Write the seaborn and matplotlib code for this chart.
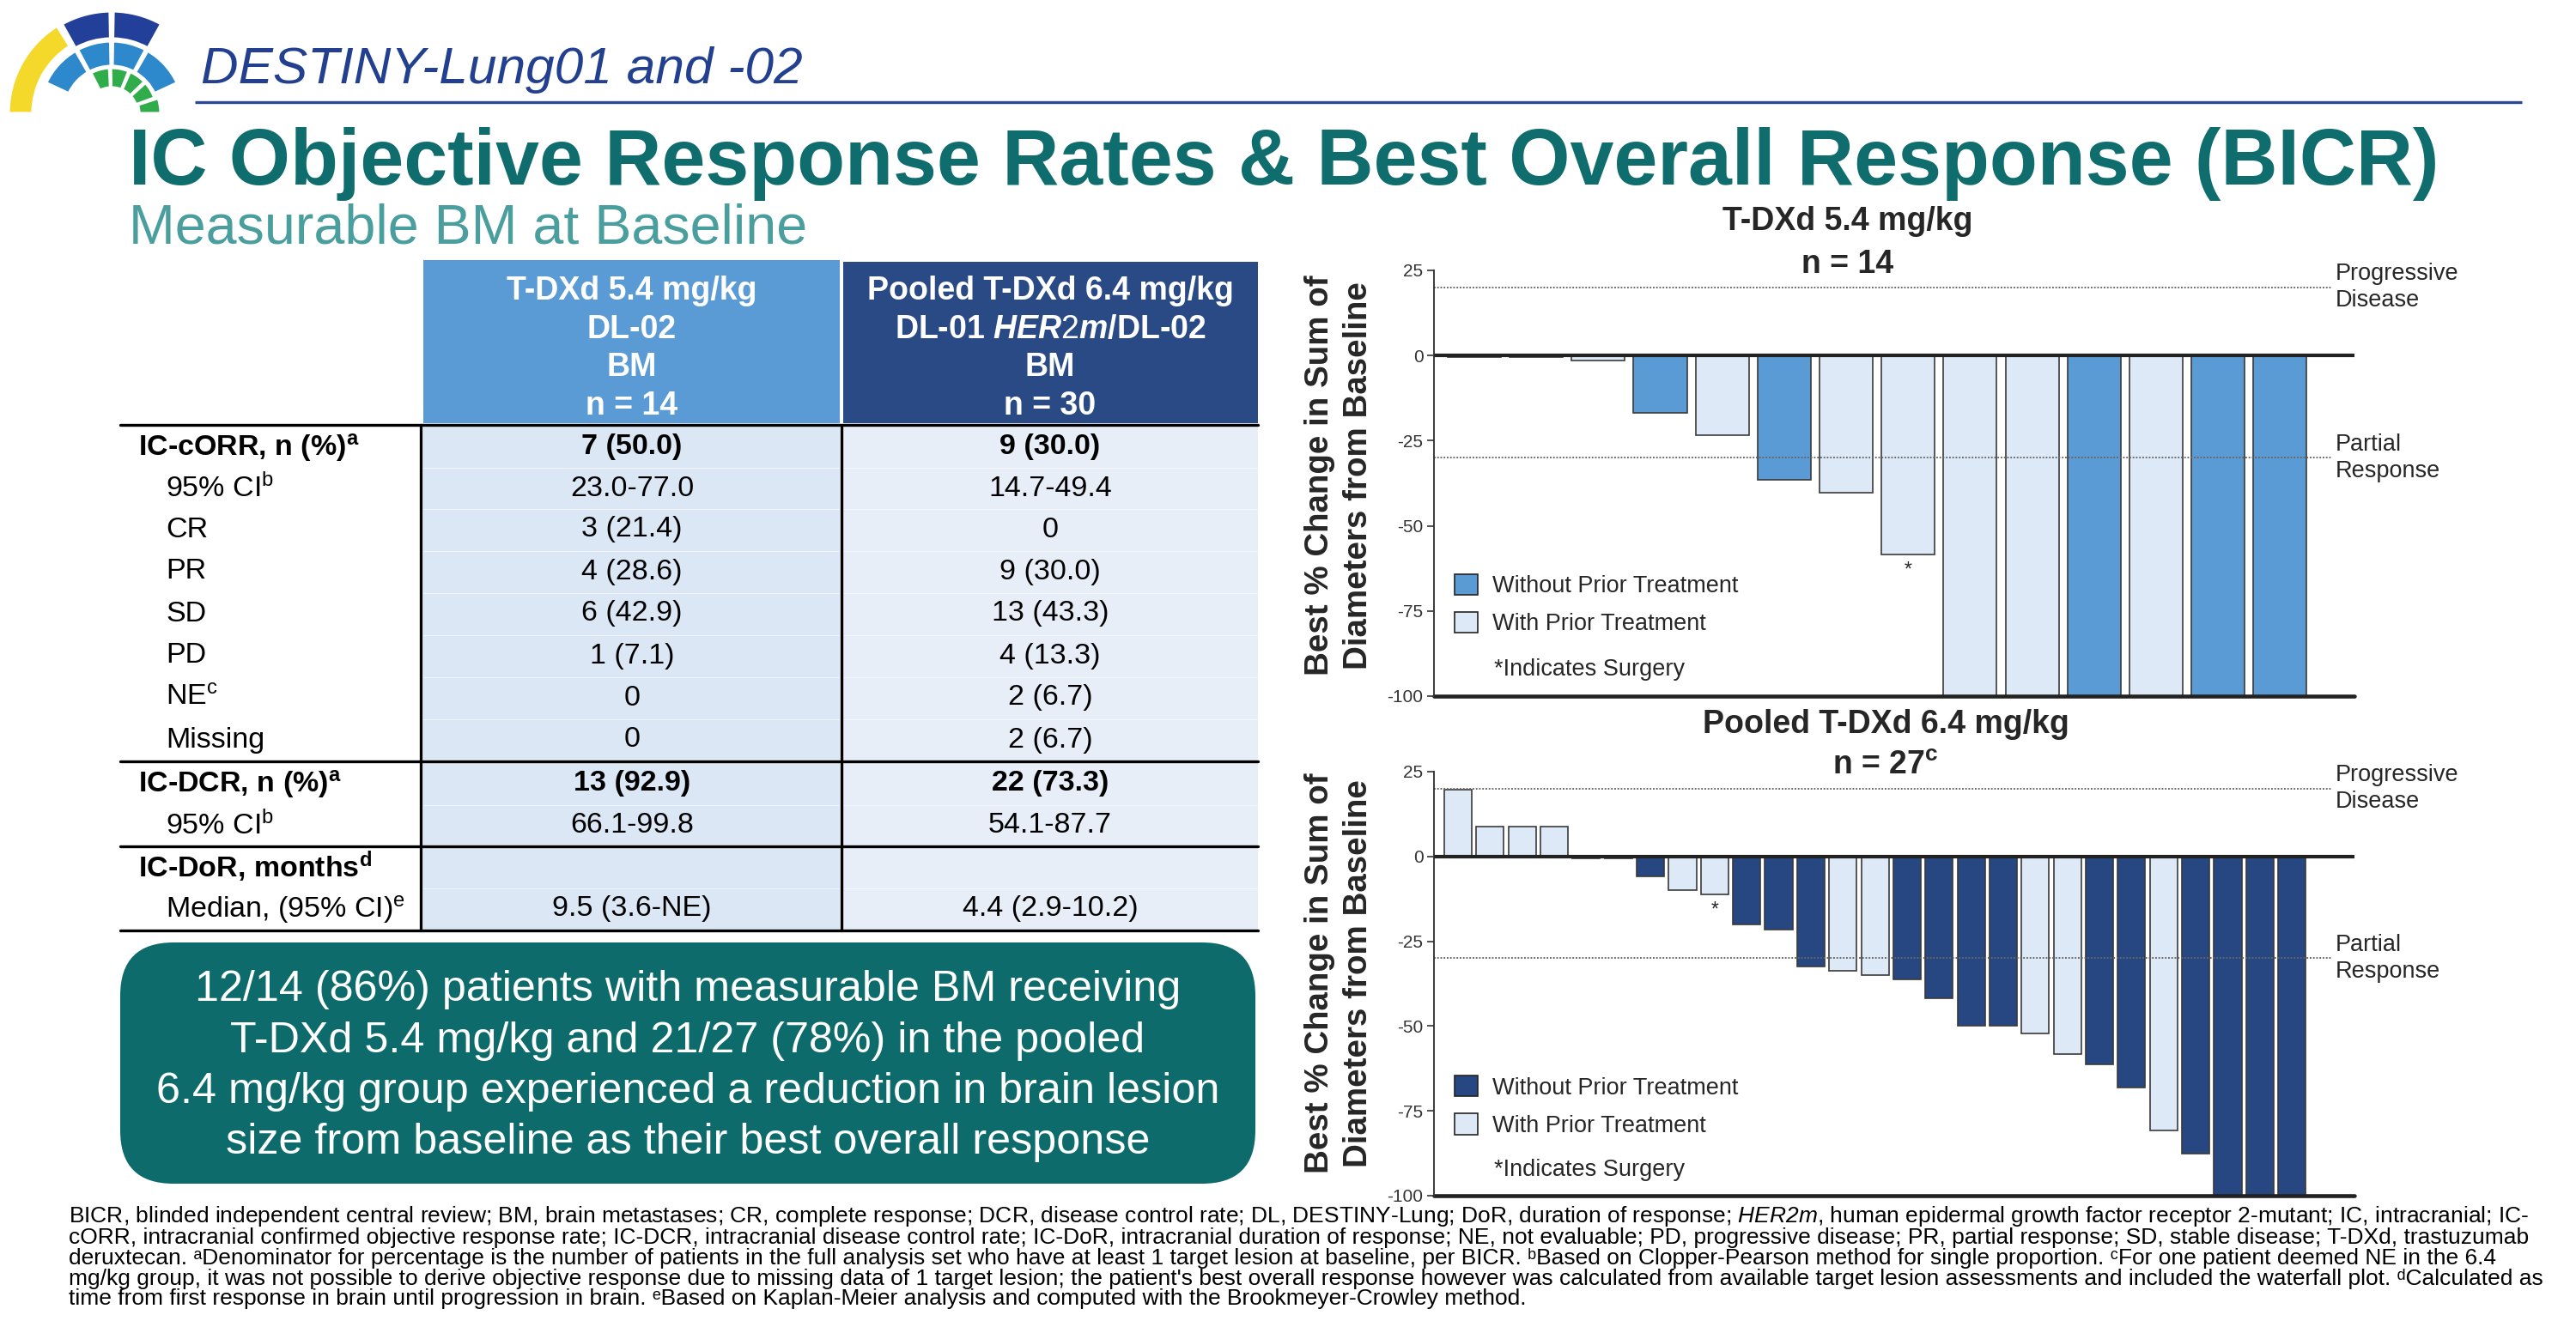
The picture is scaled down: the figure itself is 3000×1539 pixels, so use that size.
import numpy as np
import pandas as pd
import matplotlib
matplotlib.use('Agg')
import matplotlib.pyplot as plt
import matplotlib.transforms as mtransforms
from matplotlib.font_manager import FontProperties
from matplotlib.patches import Rectangle, FancyBboxPatch, Wedge, Patch
import seaborn as sns

sns.set_theme(style='white')
plt.rcParams['font.family'] = ['Liberation Sans', 'DejaVu Sans']
plt.rcParams['mathtext.fontset'] = 'custom'
plt.rcParams['mathtext.rm'] = 'Liberation Sans'
plt.rcParams['mathtext.bf'] = 'Liberation Sans:bold'
plt.rcParams['mathtext.it'] = 'Liberation Sans:bold:italic'
plt.rcParams['mathtext.sf'] = 'Liberation Sans:italic'
plt.rcParams['axes.unicode_minus'] = False

# ---- waterfall data (best % change from baseline) ----
low_change = [-0.4, -0.4, -1.5, -16.8, -23.5, -36.4, -40.2, -58.5,
              -100, -100, -100, -100, -100, -100]
low_prior = ['Without', 'Without', 'With', 'Without', 'With', 'Without', 'With', 'With',
             'With', 'With', 'Without', 'With', 'Without', 'Without']
low_surgery = [7]

pool_change = [19.6, 8.9, 8.9, 8.9, -0.5, -0.5, -5.8, -9.8, -11.2, -20.0, -21.6,
               -32.5, -33.6, -35.0, -36.3, -41.7, -49.9, -49.9, -52.1, -58.3,
               -61.2, -68.1, -80.8, -87.6, -100, -100, -100]
pool_prior = ['With', 'With', 'With', 'With', 'Without', 'Without', 'Without', 'With', 'With',
              'Without', 'Without', 'Without', 'With', 'With', 'Without', 'Without',
              'Without', 'Without', 'With', 'With', 'Without', 'Without', 'With',
              'Without', 'Without', 'Without', 'Without']
pool_surgery = [8]

yticks = [25, 0, -25, -50, -75, -100]

# ---- table data ----
row_labels = [r'IC-cORR, n (%)$^{\mathbf{a}}$', r'95% CI$^{\mathrm{b}}$', 'CR', 'PR', 'SD', 'PD',
              r'NE$^{\mathrm{c}}$', 'Missing', r'IC-DCR, n (%)$^{\mathbf{a}}$', r'95% CI$^{\mathrm{b}}$',
              r'IC-DoR, months$^{\mathbf{d}}$', r'Median, (95% CI)$^{\mathrm{e}}$']
bold_rows = [0, 8, 10]
col_54 = ['7 (50.0)', '23.0-77.0', '3 (21.4)', '4 (28.6)', '6 (42.9)', '1 (7.1)', '0', '0',
          '13 (92.9)', '66.1-99.8', '', '9.5 (3.6-NE)']
col_64 = ['9 (30.0)', '14.7-49.4', '0', '9 (30.0)', '13 (43.3)', '4 (13.3)', '2 (6.7)', '2 (6.7)',
          '22 (73.3)', '54.1-87.7', '', '4.4 (2.9-10.2)']
head_54 = ['T-DXd 5.4 mg/kg', 'DL-02', 'BM', 'n = 14']
head_64 = ['Pooled T-DXd 6.4 mg/kg', r'DL-01 $\mathit{HER2m}$/DL-02', 'BM', 'n = 30']

box_lines = ['12/14 (86%) patients with measurable BM receiving',
             'T-DXd 5.4 mg/kg and 21/27 (78%) in the pooled',
             '6.4 mg/kg group experienced a reduction in brain lesion',
             'size from baseline as their best overall response']

foot_lines = [
    r'BICR, blinded independent central review; BM, brain metastases; CR, complete response; DCR, disease control rate; DL, DESTINY-Lung; DoR, duration of response; $\mathsf{HER2m}$, human epidermal growth factor receptor 2-mutant; IC, intracranial; IC-',
    'cORR, intracranial confirmed objective response rate; IC-DCR, intracranial disease control rate; IC-DoR, intracranial duration of response; NE, not evaluable; PD, progressive disease; PR, partial response; SD, stable disease; T-DXd, trastuzumab',
    'deruxtecan. \u1d43Denominator for percentage is the number of patients in the full analysis set who have at least 1 target lesion at baseline, per BICR. \u1d47Based on Clopper-Pearson method for single proportion. \u1d9cFor one patient deemed NE in the 6.4',
    "mg/kg group, it was not possible to derive objective response due to missing data of 1 target lesion; the patient's best overall response however was calculated from available target lesion assessments and included the waterfall plot. \u1d48Calculated as",
    'time from first response in brain until progression in brain. \u1d49Based on Kaplan-Meier analysis and computed with the Brookmeyer-Crowley method.',
]

W, H = 3000, 1539
teal = '#0f6d6e'
light = '#dde9f6'
mid_blue = '#5b9bd5'
navy = '#264781'

fig = plt.figure(figsize=(W / 150, H / 150), dpi=150)
fig.patch.set_facecolor('white')
bg = fig.add_axes([0, 0, 1, 1])
bg.set_xlim(0, W)
bg.set_ylim(H, 0)
bg.axis('off')
renderer = fig.canvas.get_renderer()


def fit_size(text, width_px, **kw):
    t = bg.text(0, 0, text, fontsize=20, **kw)
    w = t.get_window_extent(renderer=renderer).width
    t.remove()
    return 20 * width_px / w


# ---- logo ----
cx, cy = 130, 132
segs = [(120, 28, 122, 180, '#f4d92a'),
        (119, 32, 61, 89, '#22409a'), (119, 32, 91, 119, '#22409a'),
        (84, 29, 25, 60, '#2e88cc'), (84, 29, 62, 89, '#2e88cc'),
        (84, 29, 91, 118, '#2e88cc'), (84, 29, 120, 155, '#2e88cc'),
        (53, 23, 93, 117, '#30ad4a'), (53, 23, 68, 91, '#30ad4a'),
        (53, 23, 44, 66, '#30ad4a'), (53, 23, 20, 42, '#30ad4a'), (57, 25, 0, 18, '#30ad4a')]
for r, wd, a1, a2, c in segs:
    bg.add_patch(Wedge((cx, cy), r, -a2, -a1, width=wd, facecolor=c, edgecolor='white', lw=1.5))

bg.text(234, 97, 'DESTINY-Lung01 and -02', fontsize=29, style='italic', color='#22408f', va='baseline')
bg.plot([227, 2937], [119, 119], color='#2c4a94', lw=1.6, solid_capstyle='butt')

title = 'IC Objective Response Rates & Best Overall Response (BICR)'
bg.text(150, 215, title, fontsize=fit_size(title, 2690, fontweight='bold'), fontweight='bold',
        color=teal, va='baseline')
bg.text(150, 283, 'Measurable BM at Baseline', fontsize=31, color='#4a9e9e', va='baseline')

# ---- table ----
c1x, c2x = (493, 978), (982, 1465)
bg.add_patch(Rectangle((c1x[0], 303), c1x[1] - c1x[0], 190, facecolor=mid_blue, lw=0))
bg.add_patch(Rectangle((c2x[0], 305), c2x[1] - c2x[0], 188, facecolor='#2a4a86', lw=0))
bg.add_patch(Rectangle((c1x[0], 495), c1x[1] - c1x[0], 589, facecolor='#dbe7f4', lw=0))
bg.add_patch(Rectangle((c2x[0], 495), c2x[1] - c2x[0], 589, facecolor='#e8eef7', lw=0))
for i, t in enumerate(head_54):
    bg.text(736, 339 + 44.7 * i, t, fontsize=18, fontweight='bold', color='white', ha='center', va='center')
for i, t in enumerate(head_64):
    bg.text(1223, 339 + 44.7 * i, t, fontsize=18, fontweight='bold', color='white', ha='center', va='center')

row_y = [521, 569, 617, 666, 715, 764, 813, 862, 913, 962, 1010, 1059]
for i, y in enumerate(row_y):
    b = 'bold' if i in bold_rows else 'normal'
    x0 = 161 if i in bold_rows else 193
    bg.text(x0, y, row_labels[i], fontsize=16.3, fontweight=b, ha='left', va='center', color='black')
    vb = 'bold' if i in (0, 8) else 'normal'
    bg.text(736, y, col_54[i], fontsize=16.3, fontweight=vb, ha='center', va='center', color='black')
    bg.text(1223, y, col_64[i], fontsize=16.3, fontweight=vb, ha='center', va='center', color='black')
    if i not in (0, 8, 10):
        yy = (row_y[i - 1] + y) / 2
        bg.plot([c1x[0], c2x[1]], [yy, yy], color='#f2f6fb', lw=0.5)
for y in (495, 887, 986, 1084):
    bg.plot([140, 1465], [y, y], color='black', lw=1.6)
for x in (490, 980):
    bg.plot([x, x], [495, 1084], color='black', lw=1.6)

# ---- summary box ----
bg.add_patch(FancyBboxPatch((140, 1098), 1322, 281, boxstyle='round,pad=0,rounding_size=62',
                            facecolor='#0e6b6c', edgecolor='none'))
bsize = fit_size(box_lines[2], 1237)
for i, t in enumerate(box_lines):
    bg.text(801, 1153 + 59.5 * i, t, fontsize=bsize, color='white', ha='center', va='center')

# ---- footnote: one block of text, tight leading as on the slide ----
fsize = min(fit_size(t, 2875) for t in foot_lines[:4])
fp = FontProperties(family=['Liberation Sans', 'DejaVu Sans'], size=fsize)
_, lp_h, lp_d = renderer.get_text_width_height_descent('lp', fp, ismath=False)
# baseline step = descent + ascent * linespacing -> aim for 23.5 px per line
lsp = (23.5 - lp_d) / (lp_h - lp_d)
bg.text(80, 1403, '\n'.join(foot_lines), fontsize=fsize, color='black', ha='left', va='top',
        linespacing=lsp)


# ---- waterfalls ----
def waterfall(change, prior, surgery, dark, rect, xlim, leg_y, note_y):
    ax = fig.add_axes(rect)
    ax.set_facecolor('none')
    df = pd.DataFrame({'pt': [str(i) for i in range(len(change))],
                       'chg': change,
                       'grp': [p + ' Prior Treatment' for p in prior]})
    pal = {'Without Prior Treatment': dark, 'With Prior Treatment': light}
    sns.barplot(data=df, x='pt', y='chg', hue='grp', palette=pal, dodge=False, width=0.86,
                saturation=1, edgecolor='#3a3a3a', linewidth=0.8, legend=False, ax=ax)
    ax.axhline(20, xmax=0.976, color='#666666', ls=(0, (1, 1)), lw=0.9)
    ax.axhline(-30, xmax=0.976, color='#666666', ls=(0, (1, 1)), lw=0.9)
    ax.axhline(0, color='#222222', lw=2.0)
    ax.axhline(-100, color='#222222', lw=2.2, clip_on=False)
    ax.set_xlim(*xlim)
    ax.set_ylim(-100, 25)
    ax.set_xticks([])
    ax.set_xlabel('')
    ax.set_ylabel('')
    ax.set_yticks(yticks)
    ax.set_yticklabels([str(v) for v in yticks], fontsize=10, color='#333333')
    ax.tick_params(axis='y', left=True, length=4, width=0.8, color='#333333', pad=2)
    for s in ('top', 'right', 'bottom'):
        ax.spines[s].set_visible(False)
    ax.spines['left'].set_color('#333333')
    ax.spines['left'].set_linewidth(0.9)
    for i in surgery:
        ax.text(i, change[i] - 4.5, '*', ha='center', va='center', fontsize=11)
    tr = mtransforms.blended_transform_factory(ax.transAxes, ax.transData)
    ax.text(0.979, 20, 'Progressive\nDisease', transform=tr, fontsize=13, va='center', ha='left',
            linespacing=1.25, clip_on=False)
    ax.text(0.979, -30, 'Partial\nResponse', transform=tr, fontsize=13, va='center', ha='left',
            linespacing=1.25, clip_on=False)
    handles = [Patch(facecolor=dark, edgecolor='#222222', lw=0.8, label='Without Prior Treatment'),
               Patch(facecolor=light, edgecolor='#222222', lw=0.8, label='With Prior Treatment')]
    ax.legend(handles=handles, loc='upper left', bbox_to_anchor=(0.022, leg_y), frameon=False,
              fontsize=13, handlelength=1.0, handleheight=1.0, labelspacing=0.62,
              handletextpad=0.65, borderpad=0, borderaxespad=0)
    ax.text(0.065, note_y, '*Indicates Surgery', transform=ax.transAxes, fontsize=13, va='center')
    return ax


waterfall(low_change, low_prior, low_surgery, mid_blue,
          [1670 / W, 1 - 811 / H, 1072 / W, 496 / H], (-0.65, 14.2), 0.287, 0.0625)
waterfall(pool_change, pool_prior, pool_surgery, navy,
          [1670 / W, 1 - 1393 / H, 1072 / W, 494 / H], (-0.75, 27.95), 0.283, 0.061)

fig.text(2152 / W, 1 - 258 / H, 'T-DXd 5.4 mg/kg', fontsize=18, fontweight='bold', ha='center', va='center')
fig.text(2152 / W, 1 - 308 / H, 'n = 14', fontsize=18, fontweight='bold', ha='center', va='center')
fig.text(2196 / W, 1 - 844 / H, 'Pooled T-DXd 6.4 mg/kg', fontsize=18, fontweight='bold', ha='center', va='center')
fig.text(2196 / W, 1 - 892 / H, r'n = 27$^{\mathbf{c}}$', fontsize=18, fontweight='bold', ha='center', va='center')

for yc in (554, 1134):
    fig.text(1537 / W, 1 - yc / H, 'Best % Change in Sum of', rotation=90, fontsize=18.5,
             fontweight='bold', ha='center', va='center')
    fig.text(1582 / W, 1 - yc / H, 'Diameters from Baseline', rotation=90, fontsize=18.5,
             fontweight='bold', ha='center', va='center')

fig.savefig('out.png', dpi=150, facecolor='white')
